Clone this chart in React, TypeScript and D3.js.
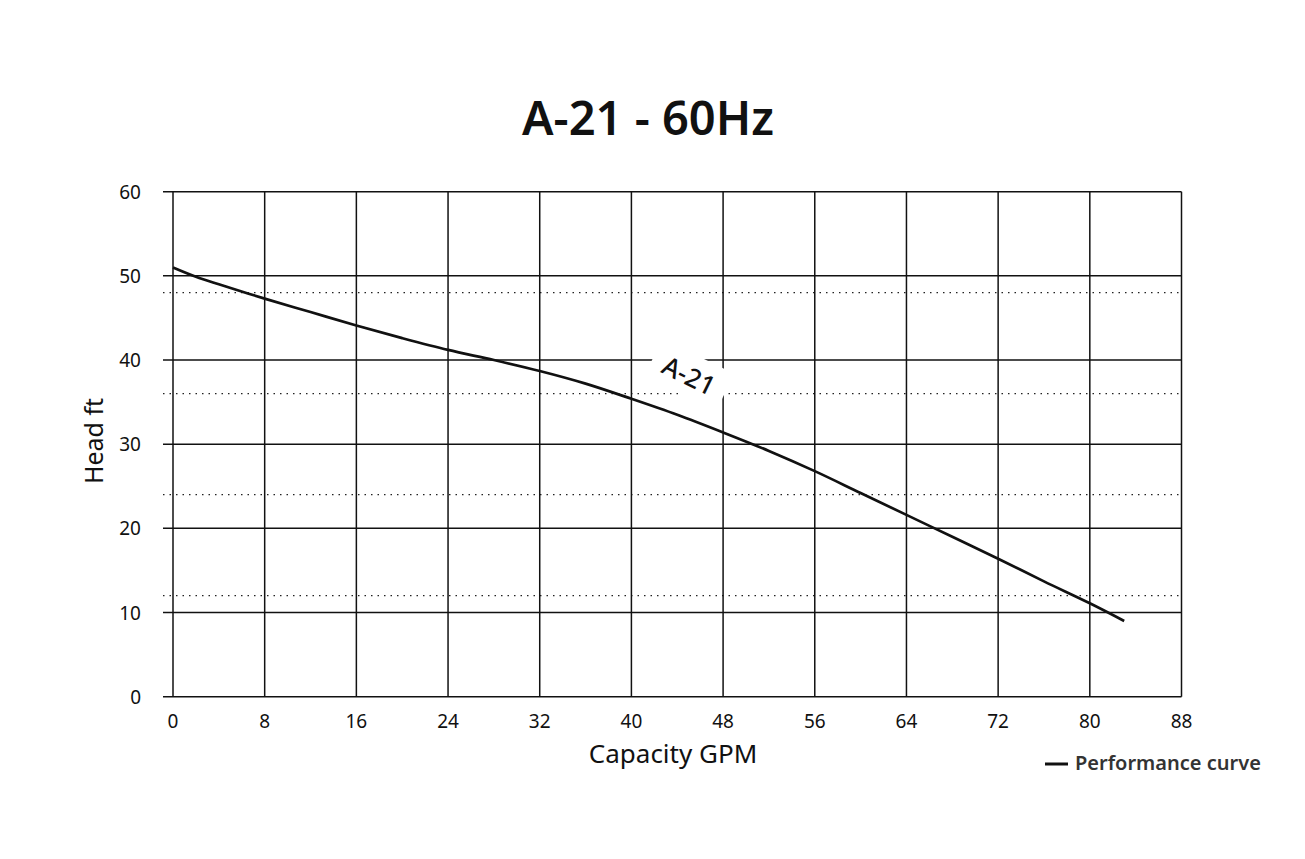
import React from "react";
import * as d3 from "d3";

const xTicks = [0, 8, 16, 24, 32, 40, 48, 56, 64, 72, 80, 88];
const yTicks = [0, 10, 20, 30, 40, 50, 60];
const dottedLevels = [12, 24, 36, 48];
const curveGPM = [0, 2, 4, 8, 12, 16, 20, 24, 28, 32, 36, 40, 44, 48, 52, 56, 60, 64, 68, 72, 76, 80, 83];
const curveHead = [51.0, 49.9, 49.0, 47.3, 45.7, 44.1, 42.6, 41.2, 40.0, 38.7, 37.2, 35.4, 33.5, 31.4, 29.2, 26.8, 24.2, 21.6, 19.0, 16.4, 13.7, 11.1, 9.0];

const FONT = "'Noto Sans', 'Open Sans', sans-serif";

export default function App() {
  const W = 1305, H = 859;
  const x = d3.scaleLinear().domain([0, 88]).range([173, 1181.5]);
  const y = d3.scaleLinear().domain([0, 60]).range([696.7, 191.7]);
  const pts = curveGPM.map((g, i) => [g, curveHead[i]] as [number, number]);
  const line = d3.line<[number, number]>().x(d => x(d[0])).y(d => y(d[1])).curve(d3.curveCatmullRom.alpha(0.5));

  return (
    <svg width={W} height={H} style={{ position: "absolute", left: 0, top: 0 }}>
      <rect width={W} height={H} fill="#fff" />
      <text x={648} y={135} textAnchor="middle" fontFamily={FONT} fontWeight={600} fontSize={47} fill="#111">A-21 - 60Hz</text>
      {dottedLevels.map(v => (
        <line key={"d" + v} x1={x(0) - 10} x2={x(88)} y1={y(v)} y2={y(v)} stroke="#222" strokeWidth={1.3} strokeDasharray="1.5,5" />
      ))}
      {yTicks.map(v => (
        <line key={"h" + v} x1={x(0) - 10} x2={x(88)} y1={y(v)} y2={y(v)} stroke="#111" strokeWidth={1.5} />
      ))}
      {xTicks.map(v => (
        <line key={"v" + v} x1={x(v)} x2={x(v)} y1={y(60)} y2={y(0)} stroke="#111" strokeWidth={1.5} />
      ))}
      <g transform={`translate(${x(45)},${y(38.1)}) rotate(26)`}>
        <rect x={-40} y={-22} width={80} height={42} fill="#fff" />
        <text x={0} y={9} textAnchor="middle" fontFamily={FONT} fontSize={26} fontWeight={500} fill="#111">A-21</text>
      </g>
      <path d={line(pts) || ""} fill="none" stroke="#111" strokeWidth={2.7} />
      {yTicks.map(v => (
        <text key={"yl" + v} x={141} y={y(v) + 7} textAnchor="end" fontFamily={FONT} fontSize={19} fill="#111">{v}</text>
      ))}
      {xTicks.map(v => (
        <text key={"xl" + v} x={x(v)} y={728} textAnchor="middle" fontFamily={FONT} fontSize={19} fill="#111">{v}</text>
      ))}
      <text x={673} y={763} textAnchor="middle" fontFamily={FONT} fontSize={26} fill="#111">Capacity GPM</text>
      <text transform={`translate(103,441) rotate(-90)`} textAnchor="middle" fontFamily={FONT} fontSize={25} fill="#111">Head ft</text>
      <line x1={1045} x2={1068} y1={764} y2={764} stroke="#111" strokeWidth={3} />
      <text x={1075} y={770} fontFamily={FONT} fontSize={20} fontWeight={600} fill="#333">Performance curve</text>
    </svg>
  );
}
